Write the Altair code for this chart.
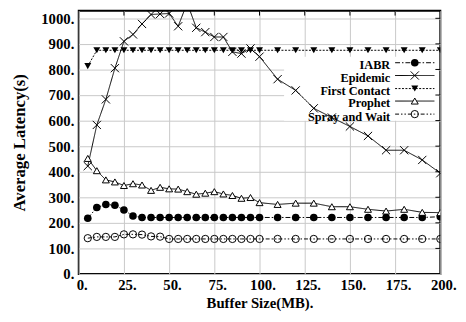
import altair as alt
import pandas as pd

# ---------------- data ----------------
buffer_mb = [5, 10, 15, 20, 25, 30, 35, 40, 45, 50, 55, 60, 65, 70, 75, 80, 85, 90, 95, 100,
             110, 120, 130, 140, 150, 160, 170, 180, 190, 200]
iabr = [218, 260, 272, 269, 250, 227, 221, 221, 221, 221, 221, 221, 221, 221, 221, 221, 221, 221, 221, 221,
        221, 221, 221, 221, 221, 221, 221, 221, 221, 224]
epidemic = [422, 583, 683, 805, 910, 937, 978, 1015, 1017, 1019, 969, 1060, 963, 946, 927, 927, 869, 862, 882, 850,
            762, 718, 648, 612, 577, 540, 484, 484, 446, 394]
first_contact = [813, 875, 875, 875, 875, 875, 875, 875, 875, 875, 875, 875, 875, 875, 875, 875, 875, 875, 875, 875,
                 875, 875, 875, 875, 875, 875, 875, 875, 875, 875]
prophet = [452, 404, 368, 360, 346, 353, 348, 327, 339, 333, 332, 322, 312, 316, 322, 313, 307, 296, 299, 279,
           272, 277, 277, 263, 263, 253, 246, 253, 241, 240]
spray_wait = [140, 145, 145, 145, 155, 155, 154, 147, 146, 137, 137, 137, 137, 137, 137, 137, 137, 137, 137, 137,
              137, 137, 137, 137, 137, 137, 137, 137, 137, 137]

series_names = ["IABR", "Epidemic", "First Contact", "Prophet", "Spray and Wait"]
series_values = [iabr, epidemic, first_contact, prophet, spray_wait]

x_ticks = [0, 25, 50, 75, 100, 125, 150, 175, 200]
y_ticks = [0, 100, 200, 300, 400, 500, 600, 700, 800, 900, 1000]

# ---------------- styles ----------------
W, H = 368, 268
FONT = "Liberation Serif"
X_CROSS = "M-1,-1L1,1M-1,1L1,-1"
styles = {
    "IABR": dict(dash=[5, 2, 1.5, 2], shape="circle", filled=True, size=60),
    "Epidemic": dict(dash=[1, 0], shape=X_CROSS, filled=False, size=70),
    "First Contact": dict(dash=[2, 1.5], shape="triangle-down", filled=True, size=50),
    "Prophet": dict(dash=[1, 0], shape="triangle-up", filled=False, size=50),
    "Spray and Wait": dict(dash=[4, 2, 1.5, 2, 1.5, 2], shape="circle", filled=False, size=55),
}

xscale = alt.Scale(domain=[0, 200], nice=False, zero=False)
yscale = alt.Scale(domain=[0, 1030], nice=False)

xaxis = alt.Axis(values=x_ticks, labelExpr="datum.value + '.'", title="Buffer Size(MB).",
                 ticks=False, domain=False, grid=True, gridColor="#c8c8c8", gridWidth=1,
                 labelFont=FONT, labelFontWeight="bold", labelFontSize=15, labelColor="black",
                 labelPadding=4, labelFlush=False, labelOffset=3,
                 titleFont=FONT, titleFontWeight="bold", titleFontSize=15, titleColor="black",
                 titlePadding=3)
yaxis = alt.Axis(values=y_ticks, labelExpr="datum.value + '.'", title="Average Latency(s)",
                 ticks=False, domain=False, grid=True, gridColor="#c8c8c8", gridWidth=1,
                 labelFont=FONT, labelFontWeight="bold", labelFontSize=15, labelColor="black",
                 labelPadding=5, labelFlush=False,
                 titleFont=FONT, titleFontWeight="bold", titleFontSize=17, titleColor="black",
                 titlePadding=12)

X_ENC = alt.X("x:Q", scale=xscale, axis=xaxis)
Y_ENC = alt.Y("y:Q", scale=yscale, axis=yaxis)

layers = []

# base layer carrying the axes / grid
axis_df = pd.DataFrame({"x": [0, 200], "y": [0, 1000]})
layers.append(alt.Chart(axis_df).mark_point(opacity=0).encode(x=X_ENC, y=Y_ENC))

# legend box (hides the grid, sits under the data)
box_df = pd.DataFrame({"n": [0]})
layers.append(
    alt.Chart(box_df).mark_rect(color="white").encode(
        x=alt.value(209), x2=alt.value(W - 2), y=alt.value(47), y2=alt.value(112)
    )
)

# inward tick marks on top and right edges
top_df = pd.DataFrame({"x": x_ticks[1:-1]})
layers.append(
    alt.Chart(top_df).mark_rule(color="black", strokeWidth=1).encode(
        x=X_ENC, y=alt.value(0), y2=alt.value(5)
    )
)
right_df = pd.DataFrame({"y": y_ticks[1:]})
layers.append(
    alt.Chart(right_df).mark_rule(color="black", strokeWidth=1).encode(
        y=Y_ENC, x=alt.value(W - 5), x2=alt.value(W)
    )
)

# series
for name, vals in zip(series_names, series_values):
    st = styles[name]
    df = pd.DataFrame({"x": buffer_mb, "y": vals})
    base = alt.Chart(df).encode(x=X_ENC, y=Y_ENC)
    layers.append(base.mark_line(color="black", strokeWidth=1, strokeDash=st["dash"], clip=True))
    pt = dict(shape=st["shape"], size=st["size"], color="black", strokeWidth=1, clip=True, opacity=1)
    if st["filled"]:
        pt.update(filled=True, fill="black")
    else:
        pt.update(filled=False, fill="white", fillOpacity=0 if name == "Spray and Wait" else 1)
    layers.append(base.mark_point(**pt))

# legend entries (gnuplot style: text right-aligned, sample on the right)
row_y = [53, 66, 79.3, 92, 105.3]
for name, yy in zip(series_names, row_y):
    st = styles[name]
    df = pd.DataFrame({"name": [name]})
    c = alt.Chart(df)
    layers.append(
        c.mark_text(align="right", baseline="alphabetic", font=FONT, fontWeight="bold",
                    fontSize=12.5, color="black").encode(
            text="name:N", x=alt.value(317), y=alt.value(yy + 6.5)
        )
    )
    layers.append(
        c.mark_rule(color="black", strokeWidth=1, strokeDash=st["dash"]).encode(
            x=alt.value(322), x2=alt.value(362), y=alt.value(yy)
        )
    )
    pt = dict(shape=st["shape"], size=st["size"], color="black", strokeWidth=1, opacity=1)
    if st["filled"]:
        pt.update(filled=True, fill="black")
    else:
        pt.update(filled=False, fill="white", fillOpacity=0 if name == "Spray and Wait" else 1)
    layers.append(c.mark_point(**pt).encode(x=alt.value(342), y=alt.value(yy)))

chart = alt.layer(*layers).properties(
    width=W, height=H,
    background="white",
    autosize=alt.AutoSizeParams(type="none"),
    padding={"left": 72, "top": 0, "right": 18, "bottom": 36},
).configure_view(stroke="black", strokeWidth=2)

chart.save("out.html", embed_options={"renderer": "svg", "actions": False})
